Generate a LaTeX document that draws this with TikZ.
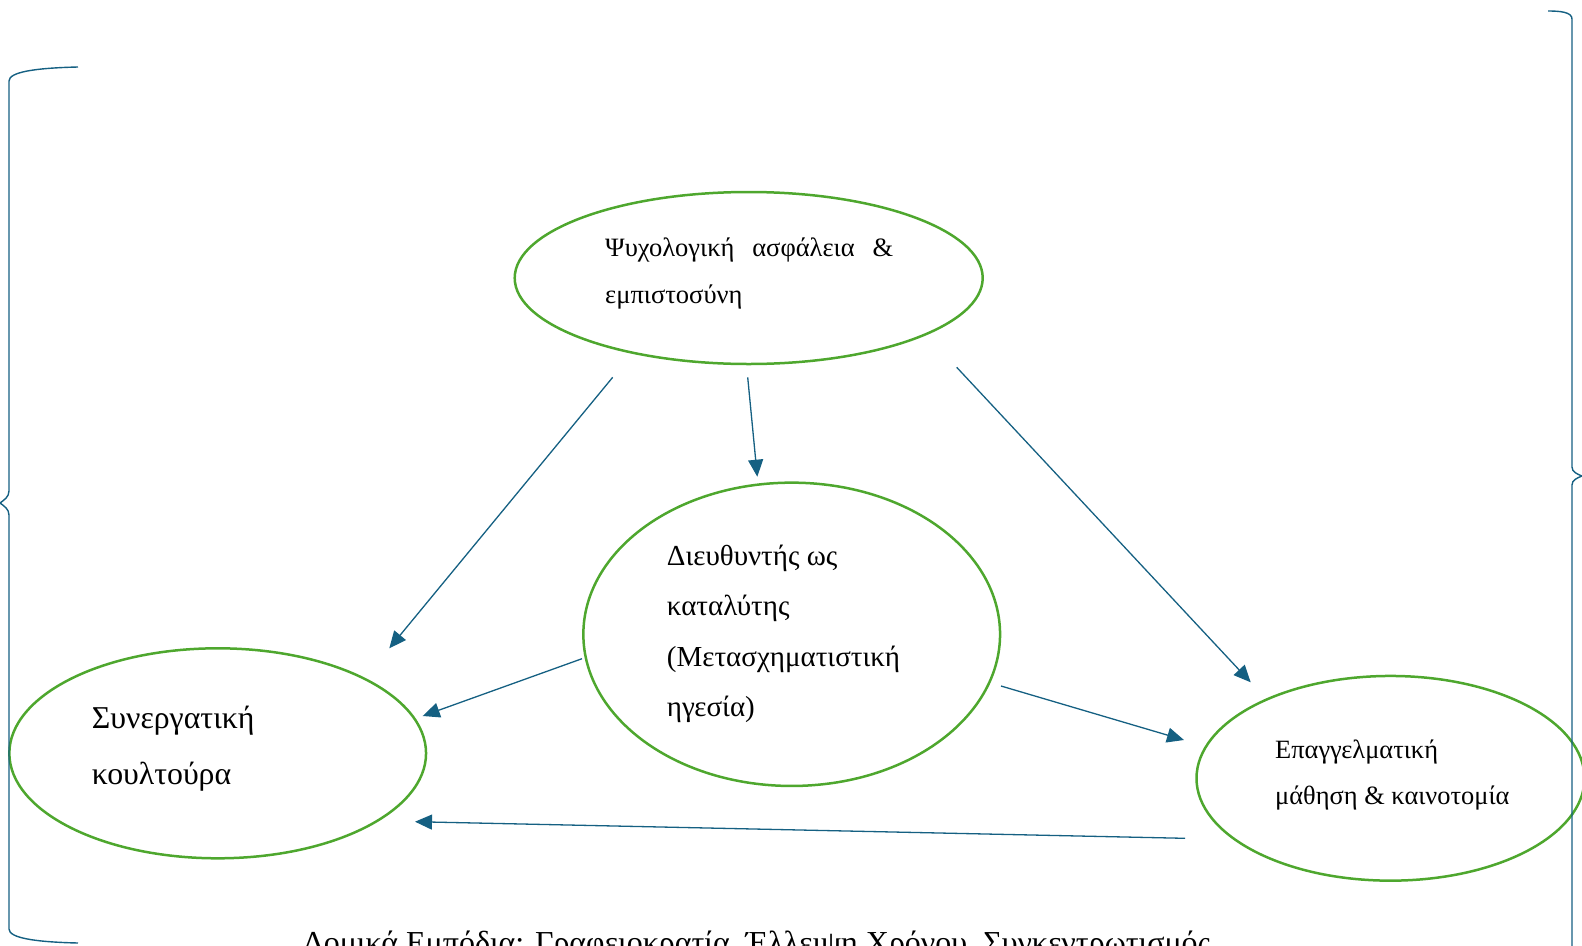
\documentclass[tikz,border=0pt]{standalone}
\usepackage{fontspec}
\setmainfont{Liberation Serif}
\usetikzlibrary{shapes.geometric,arrows.meta}
\definecolor{ovalgreen}{HTML}{4EA72E}
\definecolor{arrowblue}{HTML}{156082}

\begin{document}
\begin{tikzpicture}[x=1pt, y=-1pt,
        oval/.style={draw=ovalgreen, line width=2.5pt, ellipse, inner sep=0pt},
        txt/.style={anchor=base west, align=left, inner sep=0pt},
        link/.style={draw=arrowblue, line width=1.3pt, -{Triangle[length=17pt, width=15pt]}},
        brace/.style={draw=arrowblue, line width=1.4pt}]
            \useasboundingbox (0,0) rectangle (1582,945);
            \clip (0,0) rectangle (1582,945);
            % ovals
            \node[oval, minimum width=468pt, minimum height=172pt] (psy) at (748.7,278) {};
            \node[oval, minimum width=416.7pt, minimum height=303.3pt] (lead) at (791.7,634.3) {};
            \node[oval, minimum width=416.7pt, minimum height=210pt] (collab) at (217.7,753.3) {};
            \node[oval, minimum width=388pt, minimum height=204.7pt] (learn) at (1390.5,778.3) {};
            % texts (placed at the baseline of the last line)
            \node[txt, font=\fontsize{26.5}{47}\selectfont] (psytxt) at (605,303)
                {\makebox[288pt][l]{Ψυχολογική\hfill ασφάλεια\hfill \&}\\εμπιστοσύνη};
            \node[txt, font=\fontsize{29}{50.5}\selectfont] (leadtxt) at (666.7,716.7)
                {Διευθυντής ως\\καταλύτης\\(Μετασχηματιστική\\ηγεσία)};
            \node[txt, font=\fontsize{31.8}{56}\selectfont] (collabtxt) at (91.7,784)
                {Συνεργατική\\κουλτούρα};
            \node[txt, font=\fontsize{26.4}{46}\selectfont] (learntxt) at (1275,804)
                {Επαγγελματική\\μάθηση \& καινοτομία};
            \node[txt, font=\fontsize{32}{40}\selectfont] (barriers) at (303,953)
                {Δομικά Εμπόδια: Γραφειοκρατία, Έλλειψη Χρόνου, Συγκεντρωτισμός};
            % arrow ends
            \coordinate (a1s) at (612.7,377.3);  \coordinate (a1e) at (389.3,648.3);
            \coordinate (a2s) at (747.7,377.3);  \coordinate (a2e) at (757.3,476.7);
            \coordinate (a3s) at (956.7,367.3);  \coordinate (a3e) at (1250.7,682.3);
            \coordinate (a4s) at (582,658.7);    \coordinate (a4e) at (422.7,716);
            \coordinate (a5s) at (1001,686);     \coordinate (a5e) at (1184,740);
            \coordinate (a6s) at (1185,838.3);   \coordinate (a6e) at (415,821.7);
            \draw[link] (a1s) -- (a1e);
            \draw[link] (a2s) -- (a2e);
            \draw[link] (a3s) -- (a3e);
            \draw[link] (a4s) -- (a4e);
            \draw[link] (a5s) -- (a5e);
            \draw[link] (a6s) -- (a6e);
            % braces
            \draw[brace] (78,67) .. controls (35,68) and (9,72) .. (9,81) -- (9,491)
                .. controls (9,497) and (4,500) .. (0,503)
                .. controls (4,506) and (9,509) .. (9,515) -- (9,929)
                .. controls (9,938) and (35,942) .. (78,943);
            \draw[brace] (1548,11) .. controls (1560,11) and (1572,12) .. (1572,19) -- (1572,467)
                .. controls (1572,472) and (1577,474) .. (1582,476)
                .. controls (1577,478) and (1572,480) .. (1572,485) -- (1572,950);
        \end{tikzpicture}
\end{document}
